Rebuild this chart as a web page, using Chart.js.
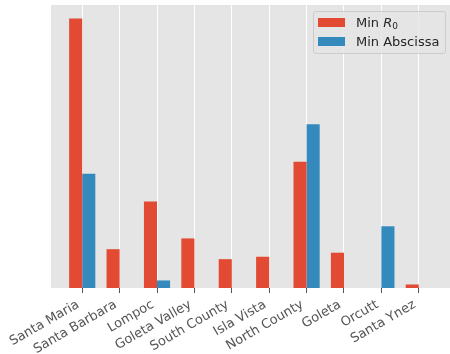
<!DOCTYPE html>
<html>
<head>
<meta charset="utf-8">
<script src="https://cdn.jsdelivr.net/npm/chart.js@4/dist/chart.umd.min.js"></script>
<style>
  html, body { margin: 0; padding: 0; background: #fff; }
  #wrap { position: relative; width: 450px; height: 354px; }
  #legend {
    position: absolute; left: 313px; top: 11px; width: 133px; height: 43px;
    box-sizing: border-box; border: 1px solid #ccc; border-radius: 3px;
    background: rgba(229,229,229,0.8);
    font: 13px "DejaVu Sans", sans-serif; color: #262626;
    padding: 1px 0 0 4px;
  }
  #legend .row { display: flex; align-items: center; height: 19px; white-space: nowrap; }
  #legend .sw { width: 27px; height: 9px; margin-right: 11px; }
  #legend sub { font-size: 9px; vertical-align: -2px; }
</style>
</head>
<body>
<div id="wrap">
  <canvas id="c" width="450" height="354"></canvas>
  <div id="legend"></div>
</div>
<script>
// Regions and their minimum values
const categories = ['Santa Maria', 'Santa Barbara', 'Lompoc', 'Goleta Valley', 'South County',
                    'Isla Vista', 'North County', 'Goleta', 'Orcutt', 'Santa Ynez'];
const minR0       = [1.000, 0.144, 0.321, 0.184, 0.107, 0.116, 0.468, 0.131, 0.000, 0.013];
const minAbscissa = [0.424, 0.000, 0.028, 0.000, 0.000, 0.000, 0.608, 0.000, 0.229, 0.000];

const seriesNames = ['Min <i>R</i><sub>0</sub>', 'Min Abscissa'];
const seriesColors = ['#E24A33', '#348ABD'];

const barWidth = 0.35;                      // in category units
const span = categories.length - 1 + 2 * barWidth;
const xMin = -barWidth - 0.05 * span;
const xMax = categories.length - 1 + barWidth + 0.05 * span;
const yMax = Math.max(...minR0, ...minAbscissa) * 1.05;

const panelBg = {
  id: 'panelBg',
  beforeDraw(chart) {
    const { ctx, chartArea: a } = chart;
    ctx.save();
    ctx.fillStyle = '#E5E5E5';
    ctx.fillRect(a.left, a.top, a.right - a.left, a.bottom - a.top);
    ctx.restore();
  }
};

const chart = new Chart(document.getElementById('c'), {
  type: 'bar',
  data: {
    datasets: [
      { label: 'Min R0', data: categories.map((c, i) => ({ x: i, y: minR0[i] })),
        backgroundColor: seriesColors[0], borderWidth: 0 },
      { label: 'Min Abscissa', data: categories.map((c, i) => ({ x: i, y: minAbscissa[i] })),
        backgroundColor: seriesColors[1], borderWidth: 0 }
    ]
  },
  options: {
    responsive: false,
    devicePixelRatio: 1,
    animation: false,
    layout: { padding: { left: 51, right: 0, top: 5, bottom: 0 } },
    datasets: { bar: { categoryPercentage: 2 * barWidth, barPercentage: 1 } },
    plugins: { legend: { display: false }, tooltip: { enabled: false } },
    scales: {
      x: {
        type: 'linear',
        offset: false,
        min: xMin,
        max: xMax,
        afterBuildTicks(s) { s.ticks = categories.map((c, i) => ({ value: i })); },
        afterFit(s) { s.paddingLeft = 0; s.paddingRight = 0; s.height = 66; },
        ticks: {
          autoSkip: false,
          minRotation: 30,
          maxRotation: 30,
          padding: 4,
          labelOffset: -4,
          color: '#555',
          font: { family: 'DejaVu Sans', size: 13 },
          callback: (v, i) => categories[i]
        },
        grid: { offset: false, color: '#ffffff', lineWidth: 1, tickColor: '#555', tickLength: 5 },
        border: { display: false }
      },
      y: { display: false, min: 0, max: yMax }
    }
  },
  plugins: [panelBg]
});

// Legend built from the chart's datasets
const legend = document.getElementById('legend');
chart.data.datasets.forEach((ds, i) => {
  const row = document.createElement('div');
  row.className = 'row';
  row.innerHTML = '<span class="sw" style="background:' + ds.backgroundColor + '"></span><span>' + seriesNames[i] + '</span>';
  legend.appendChild(row);
});
</script>
</body>
</html>
